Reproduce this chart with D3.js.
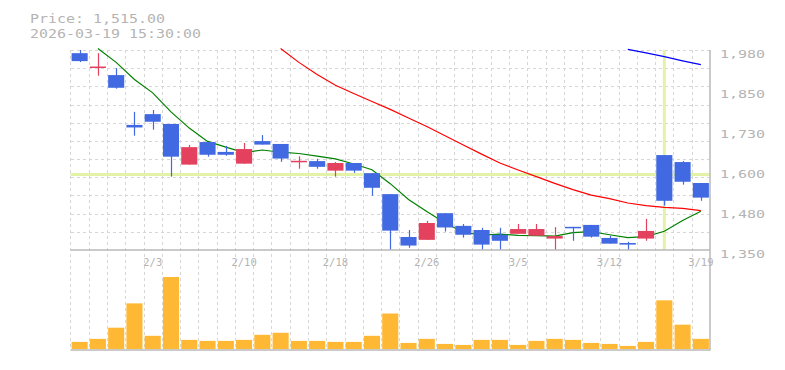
<!DOCTYPE html>
<html lang="en">
<head>
    <meta charset="UTF-8">
    <title>Price chart</title>
    <script src="https://cdnjs.cloudflare.com/ajax/libs/d3/7.8.5/d3.min.js"></script>
    <style>
        body { margin: 0; background: #fff; }
        svg { display: block; }
        .grid line { stroke: #d6d6d6; stroke-width: 1; stroke-dasharray: 3,3; shape-rendering: crispEdges; }
        .frame { stroke: #b8b8b8; stroke-width: 1.5; }
        .label { fill: #b4b4b4; font-family: "DejaVu Sans Mono", monospace; }
        .ma { fill: none; stroke-width: 1.2; }
    </style>
</head>
<body>
    <svg id="chart" width="785" height="370"></svg>

    <script>
        // trading days shown on the chart
        const dates = ["1/28", "1/29", "1/30", "2/2", "2/3", "2/4", "2/5", "2/6", "2/9", "2/10",
                       "2/12", "2/13", "2/16", "2/17", "2/18", "2/19", "2/20", "2/24", "2/25", "2/26",
                       "2/27", "3/2", "3/3", "3/4", "3/5", "3/6", "3/9", "3/10", "3/11", "3/12",
                       "3/13", "3/16", "3/17", "3/18", "3/19"];
        const xTickDates = ["2/3", "2/10", "2/18", "2/26", "3/5", "3/12", "3/19"];

        const open  = [1970, 1924, 1901, 1744, 1778, 1747, 1619, 1690, 1659, 1622,
                       1693, 1684, 1629, 1630, 1600, 1624, 1592, 1526, 1391, 1382,
                       1466, 1426, 1413, 1398, 1401, 1395, 1386, 1423, 1429, 1388,
                       1372, 1386, 1649, 1627, 1561];
        const high  = [1980, 1970, 1923, 1785, 1791, 1747, 1681, 1690, 1678, 1687,
                       1712, 1684, 1645, 1637, 1627, 1624, 1592, 1526, 1413, 1442,
                       1466, 1432, 1420, 1420, 1432, 1432, 1422, 1423, 1429, 1395,
                       1376, 1448, 1649, 1630, 1561];
        const low   = [1942, 1899, 1858, 1710, 1729, 1581, 1619, 1644, 1647, 1622,
                       1682, 1628, 1606, 1606, 1581, 1593, 1521, 1350, 1357, 1382,
                       1408, 1389, 1351, 1351, 1401, 1395, 1350, 1379, 1389, 1370,
                       1350, 1379, 1490, 1556, 1505];
        const close = [1945, 1928, 1861, 1736, 1754, 1644, 1674, 1650, 1650, 1668,
                       1682, 1638, 1631, 1612, 1624, 1600, 1546, 1411, 1364, 1435,
                       1421, 1398, 1367, 1379, 1416, 1416, 1394, 1420, 1392, 1370,
                       1367, 1410, 1505, 1565, 1515];
        const volume = [70, 100, 210, 450, 130, 710, 90, 80, 80, 90,
                        140, 160, 80, 80, 70, 70, 130, 350, 60, 100,
                        50, 40, 90, 90, 40, 80, 100, 90, 60, 50,
                        30, 70, 480, 240, 100];

        // moving averages (null = off the top of the chart)
        const ma5  = [null, 1985, 1941, 1887, 1845, 1785, 1734, 1692, 1674, 1657,
                      1665, 1658, 1654, 1646, 1637, 1621, 1603, 1559, 1509, 1471,
                      1435, 1406, 1397, 1400, 1396, 1395, 1394, 1405, 1408, 1398,
                      1389, 1392, 1409, 1443, 1472];
        const ma25 = [null, null, null, null, null, null, null, null, null, null,
                      null, 1985, 1941, 1903, 1869, 1843, 1818, 1793, 1766, 1739,
                      1710, 1681, 1652, 1624, 1602, 1581, 1560, 1540, 1523, 1512,
                      1498, 1490, 1484, 1481, 1474];
        const ma75 = [null, null, null, null, null, null, null, null, null, null,
                      null, null, null, null, null, null, null, null, null, null,
                      null, null, null, null, null, null, null, null, null, null,
                      1982, 1971, 1959, 1946, 1934];

        const yMin = 1350, yMax = 1980;
        const yTickValues = [1350, 1476, 1602, 1728, 1854, 1980];
        const yTickLabels = ["1,350", "1,480", "1,600", "1,730", "1,850", "1,980"];

        // cursor crosshair
        const cursorDate = "3/17";
        const cursorPrice = 1588;
        const infoLines = ["Price: 1,515.00", "2026-03-19 15:30:00"];

        const svg = d3.select("#chart");
        const left = 70.5, right = 710;

        const x = d3.scaleBand()
            .domain(dates)
            .range([left, right])
            .paddingInner(0.12)
            .paddingOuter(0.06);
        const gap = x.step() - x.bandwidth();
        const cx = d => x(d) + x.bandwidth() / 2;

        const y = d3.scaleLinear().domain([yMin, yMax]).range([250, 50]);
        const yVol = d3.scaleLinear().domain([0, d3.max(volume)]).range([349, 277]);

        // grid
        const grid = svg.append("g").attr("class", "grid");
        grid.selectAll(".v")
            .data(dates)
            .enter()
            .append("line")
            .attr("x1", d => Math.round(x(d) - gap / 2) + 0.5)
            .attr("x2", d => Math.round(x(d) - gap / 2) + 0.5)
            .attr("y1", y(yMax))
            .attr("y2", yVol(0));
        grid.selectAll(".h")
            .data(d3.range(1, 12).map(k => yMin + k * (yMax - yMin) / 11))
            .enter()
            .append("line")
            .attr("x1", left)
            .attr("x2", right)
            .attr("y1", d => Math.round(y(d)) + 0.5)
            .attr("y2", d => Math.round(y(d)) + 0.5);

        // crosshair
        svg.append("line")
            .attr("x1", left).attr("x2", right)
            .attr("y1", y(cursorPrice)).attr("y2", y(cursorPrice))
            .attr("stroke", "#e2f3a8").attr("stroke-width", 3);
        svg.append("line")
            .attr("x1", cx(cursorDate)).attr("x2", cx(cursorDate))
            .attr("y1", y(yMax)).attr("y2", y(yMin))
            .attr("stroke", "#e2f3a8").attr("stroke-width", 3);

        // moving average lines
        const line = d3.line()
            .defined(d => d[1] !== null)
            .x(d => cx(d[0]))
            .y(d => y(d[1]));
        [[ma5, "#008000"], [ma25, "#ff0000"], [ma75, "#0000ff"]].forEach(([vals, color]) => {
            svg.append("path")
                .datum(dates.map((d, i) => [d, vals[i]]))
                .attr("class", "ma")
                .attr("stroke", color)
                .attr("d", line);
        });

        // candles
        const candles = dates.map((d, i) => ({ date: d, o: open[i], h: high[i], l: low[i], c: close[i] }));
        const colorOf = d => d.c >= d.o ? "#e3415d" : "#4169e1";
        const candle = svg.append("g").selectAll("g")
            .data(candles)
            .enter()
            .append("g");
        candle.append("line")
            .attr("x1", d => Math.round(cx(d.date)) + 0.5)
            .attr("x2", d => Math.round(cx(d.date)) + 0.5)
            .attr("y1", d => y(d.h))
            .attr("y2", d => y(d.l))
            .attr("stroke", colorOf)
            .attr("stroke-width", 1.2);
        candle.append("rect")
            .attr("x", d => x(d.date))
            .attr("width", x.bandwidth())
            .attr("y", d => y(Math.max(d.o, d.c)))
            .attr("height", d => Math.max(1.5, Math.abs(y(d.o) - y(d.c))))
            .attr("fill", colorOf);

        // volume bars
        svg.append("g").selectAll("rect")
            .data(volume)
            .enter()
            .append("rect")
            .attr("x", (v, i) => x(dates[i]))
            .attr("width", x.bandwidth())
            .attr("y", v => yVol(v))
            .attr("height", v => yVol(0) - yVol(v))
            .attr("fill", "#ffb833");

        // frame lines
        svg.append("line").attr("class", "frame")
            .attr("x1", left).attr("x2", right).attr("y1", y(yMin)).attr("y2", y(yMin));
        svg.append("line").attr("class", "frame")
            .attr("x1", left).attr("x2", right).attr("y1", yVol(0) + 1).attr("y2", yVol(0) + 1);
        svg.append("line").attr("class", "frame")
            .attr("x1", right).attr("x2", right).attr("y1", y(yMax)).attr("y2", yVol(0) + 1.5);

        // x axis labels
        const xAxis = svg.append("g")
            .attr("transform", `translate(0,${y(yMin)})`)
            .call(d3.axisBottom(x).tickValues(xTickDates).tickSize(0).tickPadding(8.5));
        xAxis.select(".domain").remove();
        xAxis.selectAll("text")
            .attr("class", "label")
            .style("font-size", "10.5px");

        // y axis labels
        const yAxis = svg.append("g")
            .attr("transform", `translate(${right},0)`)
            .call(d3.axisRight(y).tickValues(yTickValues)
                .tickFormat((d, i) => yTickLabels[i]).tickSize(0).tickPadding(10));
        yAxis.select(".domain").remove();
        yAxis.selectAll("text")
            .attr("class", "label")
            .attr("x", 10 / 1.36)
            .attr("dy", 7)
            .attr("transform", "scale(1.36,1)")
            .style("font-size", "11px");

        // info text
        svg.append("g").selectAll("text")
            .data(infoLines)
            .enter()
            .append("text")
            .attr("class", "label")
            .attr("transform", (d, i) => `translate(30,${22.5 + i * 15.2}) scale(1.15,1)`)
            .style("font-size", "13px")
            .text(d => d);
    </script>
</body>
</html>
